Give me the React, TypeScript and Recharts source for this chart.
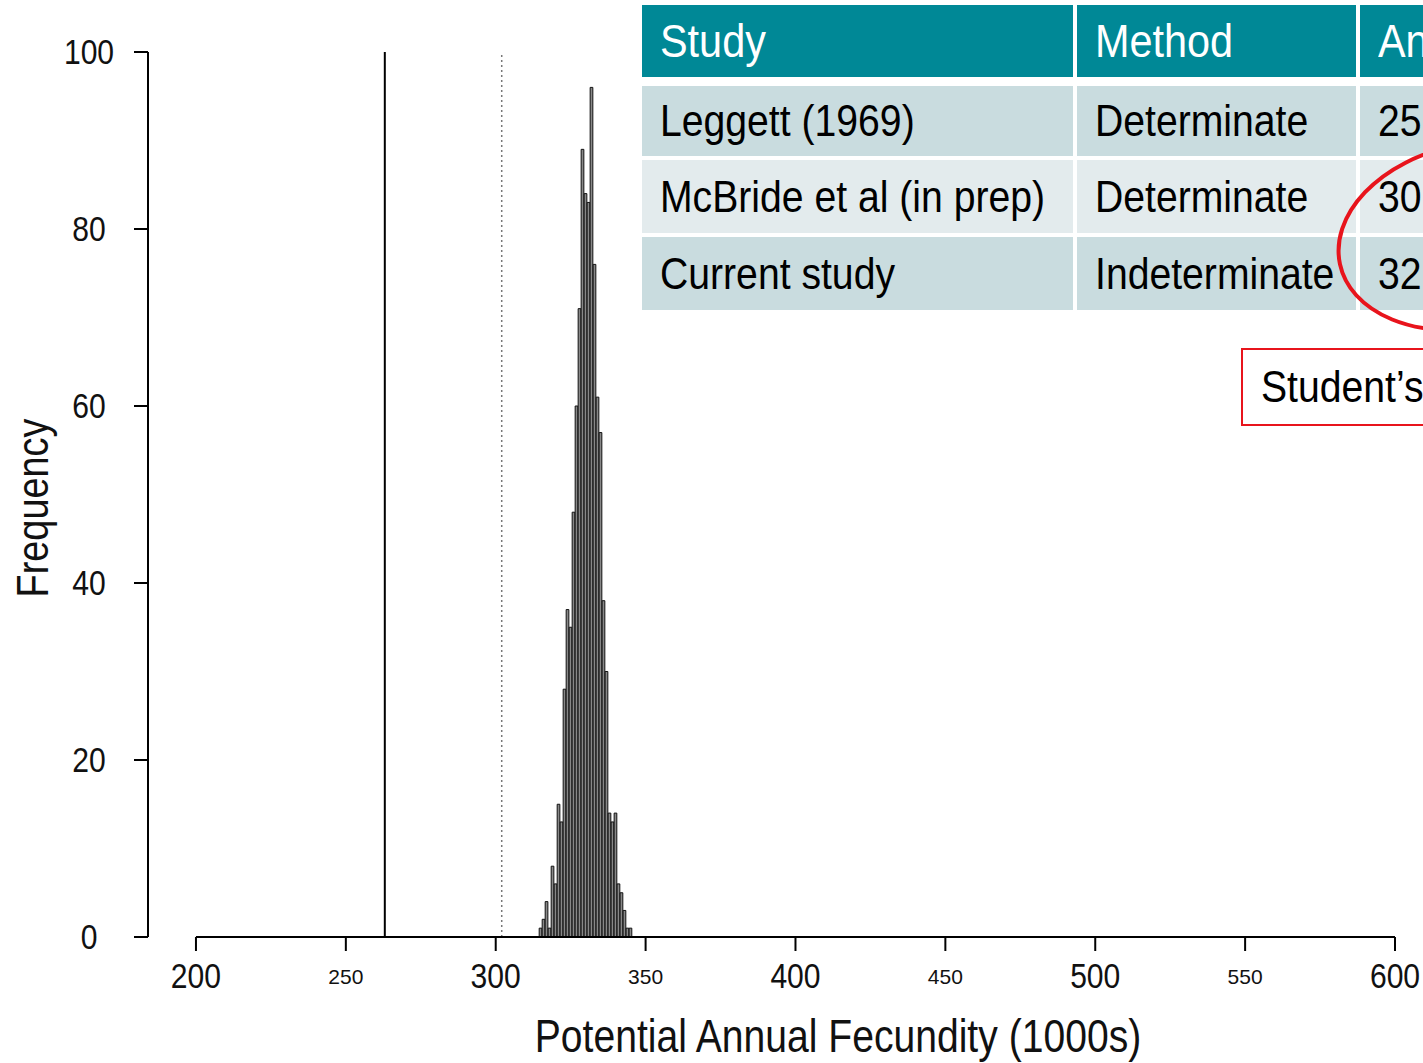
import { ComposedChart, Bar, XAxis, YAxis, ReferenceLine } from 'recharts';

// histogram of bootstrap fecundity estimates (1000s), 1-unit bins
const binCenters = [315, 316, 317, 318, 319, 320, 321, 322, 323, 324, 325, 326, 327, 328, 329, 330,
  331, 332, 333, 334, 335, 336, 337, 338, 339, 340, 341, 342, 343, 344, 345];
const counts = [1, 2, 4, 1, 8, 6, 15, 13, 28, 37, 35, 48, 60, 71, 89, 84,
  83, 96, 76, 61, 57, 38, 30, 14, 13, 14, 6, 5, 3, 1, 1];

const xTicks = [200, 250, 300, 350, 400, 450, 500, 550, 600];
const yTicks = [0, 20, 40, 60, 80, 100];

const leggettLine = 263;
const mcbrideLine = 302;

const tableHeader = ['Study', 'Method', 'An'];
const studies = ['Leggett (1969)', 'McBride et al (in prep)', 'Current study'];
const methods = ['Determinate', 'Determinate', 'Indeterminate'];
const estimates = ['25', '30', '32'];

// no narrow font installed, so Liberation Sans squeezed horizontally
const sans = "'Liberation Sans', Arial, sans-serif";
const squeeze = 0.86;

const data = binCenters.map((x, i) => ({ x, count: counts[i] }));

const XTick = ({ x, payload }: any) => {
  const major = payload.value % 100 === 0;
  return (
    <text
      transform={`translate(${x} 976) scale(${major ? squeeze : 1} 1)`}
      textAnchor="middle"
      dominantBaseline="central"
      fontSize={major ? 35 : 21}
      fontFamily={sans}
      fill="#111"
    >
      {payload.value}
    </text>
  );
};

const YTick = ({ y, payload }: any) => (
  <text
    transform={`translate(89 ${y}) scale(${squeeze} 1)`}
    textAnchor="middle"
    dominantBaseline="central"
    fontSize={35}
    fontFamily={sans}
    fill="#111"
  >
    {payload.value}
  </text>
);

const Squeezed = ({ children, k = 0.87 }: any) => (
  <span style={{ display: 'inline-block', transform: `scaleX(${k})`, transformOrigin: 'left center' }}>{children}</span>
);

const colLeft = [642, 1077, 1360];
const colWidth = [431, 279, 120];
const rowTop = [86, 160, 237];
const rowHeight = [70, 73, 73];
const rowFill = ['#c9dcdf', '#e3ebed', '#c9dcdf'];

const App = () => {
  const rows = [studies, methods, estimates];
  return (
    <div style={{ position: 'absolute', left: 0, top: 0, width: 1423, height: 1063, overflow: 'hidden', background: '#fff' }}>
      <ComposedChart width={1423} height={1063} data={data} margin={{ top: 52, right: 28, bottom: 26, left: 88 }}>
        <XAxis
          dataKey="x"
          type="number"
          domain={[184, 600]}
          ticks={xTicks}
          allowDataOverflow
          axisLine={false}
          tickLine={{ stroke: '#000', strokeWidth: 2 }}
          tickSize={14}
          height={100}
          tick={<XTick />}
          interval={0}
        />
        <YAxis
          type="number"
          domain={[0, 100]}
          ticks={yTicks}
          width={60}
          axisLine={{ stroke: '#000', strokeWidth: 2 }}
          tickLine={{ stroke: '#000', strokeWidth: 2 }}
          tickSize={14}
          tick={<YTick />}
          interval={0}
        />
        <Bar dataKey="count" barSize={3} fill="#888" stroke="#111" strokeWidth={1} isAnimationActive={false} />
        <ReferenceLine x={leggettLine} stroke="#000" strokeWidth={2} />
        <ReferenceLine x={mcbrideLine} stroke="#777" strokeWidth={1.5} strokeDasharray="2 3" />
        <ReferenceLine segment={[{ x: 200, y: 0 }, { x: 600, y: 0 }]} stroke="#000" strokeWidth={2} />
      </ComposedChart>

      <div
        style={{
          position: 'absolute', left: 33, top: 508, transform: `translate(-50%, -50%) rotate(-90deg) scaleX(${squeeze})`,
          fontFamily: sans, fontSize: 44, color: '#111', whiteSpace: 'nowrap',
        }}
      >
        Frequency
      </div>
      <div
        style={{
          position: 'absolute', left: 838, top: 1036, transform: `translate(-50%, -50%) scaleX(0.85)`,
          fontFamily: sans, fontSize: 46, lineHeight: '50px', color: '#111', whiteSpace: 'nowrap',
        }}
      >
        Potential Annual Fecundity (1000s)
      </div>

      {tableHeader.map((h, c) => (
        <div
          key={h}
          style={{
            position: 'absolute', left: colLeft[c], top: 5, width: colWidth[c], height: 72, background: '#008896',
            color: '#fff', fontFamily: sans, fontSize: 46, lineHeight: '72px', paddingLeft: 18, boxSizing: 'border-box',
            whiteSpace: 'nowrap', overflow: 'hidden',
          }}
        >
          <Squeezed k={0.9}>{h}</Squeezed>
        </div>
      ))}
      {rowTop.map((top, r) =>
        rows.map((col, c) => (
          <div
            key={`${r}-${c}`}
            style={{
              position: 'absolute', left: colLeft[c], top, width: colWidth[c], height: rowHeight[r], background: rowFill[r],
              color: '#000', fontFamily: sans, fontSize: 45, lineHeight: `${rowHeight[r]}px`, paddingLeft: 18,
              boxSizing: 'border-box', whiteSpace: 'nowrap', overflow: 'hidden',
            }}
          >
            <Squeezed>{col[r]}</Squeezed>
          </div>
        ))
      )}

      <div
        style={{
          position: 'absolute', left: 1241, top: 348, width: 220, height: 78, border: '2px solid #e8141c',
          boxSizing: 'border-box', background: '#fff', fontFamily: sans, fontSize: 45, lineHeight: '74px',
          paddingLeft: 18, color: '#000', whiteSpace: 'nowrap',
        }}
      >
        <Squeezed>Student’s</Squeezed>
      </div>

      <svg width={1423} height={1063} style={{ position: 'absolute', left: 0, top: 0, pointerEvents: 'none' }}>
        <ellipse cx={1472} cy={236} rx={135} ry={92} fill="none" stroke="#e8141c" strokeWidth={4} transform="rotate(-12 1472 236)" />
      </svg>
    </div>
  );
};

export default App;
